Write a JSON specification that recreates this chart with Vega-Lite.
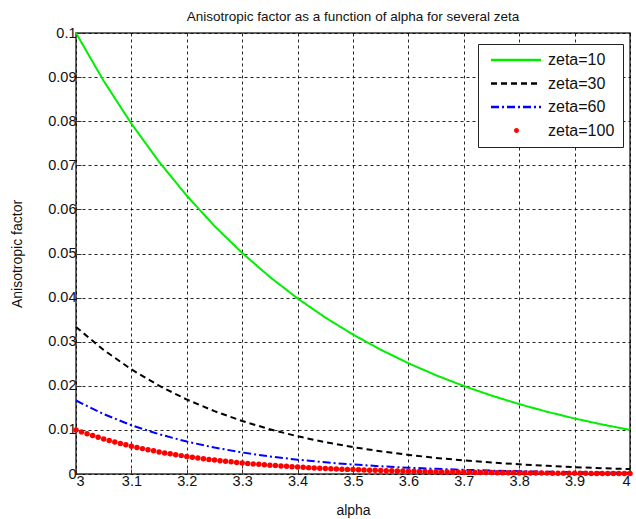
{
  "$schema": "https://vega.github.io/schema/vega-lite/v6.json",
  "width": 554,
  "height": 441,
  "autosize": {"type": "none"},
  "padding": {"left": 76, "top": 33, "right": 6, "bottom": 45},
  "background": "white",
  "title": {"text": "Anisotropic factor as a function of alpha for several zeta", "fontSize": 13.5, "fontWeight": "normal", "font": "Liberation Sans", "color": "#111", "offset": 2},
  "config": {
    "view": {"stroke": "#333", "strokeWidth": 1.5},
    "axis": {"labelFont": "Liberation Sans", "titleFont": "Liberation Sans", "labelFontSize": 14.5, "titleFontSize": 14, "titleFontWeight": "normal", "labelColor": "#111", "titleColor": "#111", "gridColor": "#000", "gridDash": [3, 3], "gridOpacity": 0.85, "gridWidth": 1, "domain": false, "tickColor": "#333", "tickSize": -5, "labelPadding": 5}
  },
  "data": {"values": [
    {"a":3.00,"z":"zeta=10","f":0.1},{"a":3.05,"z":"zeta=10","f":0.089125},{"a":3.10,"z":"zeta=10","f":0.079433},{"a":3.15,"z":"zeta=10","f":0.070795},{"a":3.20,"z":"zeta=10","f":0.063096},{"a":3.25,"z":"zeta=10","f":0.056234},{"a":3.30,"z":"zeta=10","f":0.050119},{"a":3.35,"z":"zeta=10","f":0.044668},{"a":3.40,"z":"zeta=10","f":0.039811},{"a":3.45,"z":"zeta=10","f":0.035481},{"a":3.50,"z":"zeta=10","f":0.031623},{"a":3.55,"z":"zeta=10","f":0.028184},{"a":3.60,"z":"zeta=10","f":0.025119},{"a":3.65,"z":"zeta=10","f":0.022387},{"a":3.70,"z":"zeta=10","f":0.019953},{"a":3.75,"z":"zeta=10","f":0.017783},{"a":3.80,"z":"zeta=10","f":0.015849},{"a":3.85,"z":"zeta=10","f":0.014125},{"a":3.90,"z":"zeta=10","f":0.012589},{"a":3.95,"z":"zeta=10","f":0.011220},{"a":4.00,"z":"zeta=10","f":0.01},
    {"a":3.00,"z":"zeta=30","f":0.033333},{"a":3.05,"z":"zeta=30","f":0.028120},{"a":3.10,"z":"zeta=30","f":0.023723},{"a":3.15,"z":"zeta=30","f":0.020013},{"a":3.20,"z":"zeta=30","f":0.016883},{"a":3.25,"z":"zeta=30","f":0.014243},{"a":3.30,"z":"zeta=30","f":0.012015},{"a":3.35,"z":"zeta=30","f":0.010136},{"a":3.40,"z":"zeta=30","f":0.008551},{"a":3.45,"z":"zeta=30","f":0.007214},{"a":3.50,"z":"zeta=30","f":0.006086},{"a":3.55,"z":"zeta=30","f":0.005134},{"a":3.60,"z":"zeta=30","f":0.004331},{"a":3.65,"z":"zeta=30","f":0.003654},{"a":3.70,"z":"zeta=30","f":0.003082},{"a":3.75,"z":"zeta=30","f":0.002600},{"a":3.80,"z":"zeta=30","f":0.002194},{"a":3.85,"z":"zeta=30","f":0.001851},{"a":3.90,"z":"zeta=30","f":0.001561},{"a":3.95,"z":"zeta=30","f":0.001317},{"a":4.00,"z":"zeta=30","f":0.001111},
    {"a":3.00,"z":"zeta=60","f":0.016667},{"a":3.05,"z":"zeta=60","f":0.013581},{"a":3.10,"z":"zeta=60","f":0.011067},{"a":3.15,"z":"zeta=60","f":0.009018},{"a":3.20,"z":"zeta=60","f":0.007349},{"a":3.25,"z":"zeta=60","f":0.005988},{"a":3.30,"z":"zeta=60","f":0.004880},{"a":3.35,"z":"zeta=60","f":0.003976},{"a":3.40,"z":"zeta=60","f":0.003240},{"a":3.45,"z":"zeta=60","f":0.002640},{"a":3.50,"z":"zeta=60","f":0.002152},{"a":3.55,"z":"zeta=60","f":0.001753},{"a":3.60,"z":"zeta=60","f":0.001429},{"a":3.65,"z":"zeta=60","f":0.001164},{"a":3.70,"z":"zeta=60","f":0.000949},{"a":3.75,"z":"zeta=60","f":0.000773},{"a":3.80,"z":"zeta=60","f":0.000630},{"a":3.85,"z":"zeta=60","f":0.000513},{"a":3.90,"z":"zeta=60","f":0.000418},{"a":3.95,"z":"zeta=60","f":0.000341},{"a":4.00,"z":"zeta=60","f":0.000278},
    {"a":3.00,"z":"zeta=100","f":0.010000},{"a":3.01,"z":"zeta=100","f":0.009550},{"a":3.02,"z":"zeta=100","f":0.009120},{"a":3.03,"z":"zeta=100","f":0.008710},{"a":3.04,"z":"zeta=100","f":0.008318},{"a":3.05,"z":"zeta=100","f":0.007943},{"a":3.06,"z":"zeta=100","f":0.007586},{"a":3.07,"z":"zeta=100","f":0.007244},{"a":3.08,"z":"zeta=100","f":0.006918},{"a":3.09,"z":"zeta=100","f":0.006607},
    {"a":3.10,"z":"zeta=100","f":0.006310},{"a":3.11,"z":"zeta=100","f":0.006026},{"a":3.12,"z":"zeta=100","f":0.005754},{"a":3.13,"z":"zeta=100","f":0.005495},{"a":3.14,"z":"zeta=100","f":0.005248},{"a":3.15,"z":"zeta=100","f":0.005012},{"a":3.16,"z":"zeta=100","f":0.004786},{"a":3.17,"z":"zeta=100","f":0.004571},{"a":3.18,"z":"zeta=100","f":0.004365},{"a":3.19,"z":"zeta=100","f":0.004169},
    {"a":3.20,"z":"zeta=100","f":0.003981},{"a":3.21,"z":"zeta=100","f":0.003802},{"a":3.22,"z":"zeta=100","f":0.003631},{"a":3.23,"z":"zeta=100","f":0.003467},{"a":3.24,"z":"zeta=100","f":0.003311},{"a":3.25,"z":"zeta=100","f":0.003162},{"a":3.26,"z":"zeta=100","f":0.003020},{"a":3.27,"z":"zeta=100","f":0.002884},{"a":3.28,"z":"zeta=100","f":0.002754},{"a":3.29,"z":"zeta=100","f":0.002630},
    {"a":3.30,"z":"zeta=100","f":0.002512},{"a":3.31,"z":"zeta=100","f":0.002399},{"a":3.32,"z":"zeta=100","f":0.002291},{"a":3.33,"z":"zeta=100","f":0.002188},{"a":3.34,"z":"zeta=100","f":0.002089},{"a":3.35,"z":"zeta=100","f":0.001995},{"a":3.36,"z":"zeta=100","f":0.001905},{"a":3.37,"z":"zeta=100","f":0.001820},{"a":3.38,"z":"zeta=100","f":0.001738},{"a":3.39,"z":"zeta=100","f":0.001660},
    {"a":3.40,"z":"zeta=100","f":0.001585},{"a":3.41,"z":"zeta=100","f":0.001514},{"a":3.42,"z":"zeta=100","f":0.001445},{"a":3.43,"z":"zeta=100","f":0.001380},{"a":3.44,"z":"zeta=100","f":0.001318},{"a":3.45,"z":"zeta=100","f":0.001259},{"a":3.46,"z":"zeta=100","f":0.001202},{"a":3.47,"z":"zeta=100","f":0.001148},{"a":3.48,"z":"zeta=100","f":0.001096},{"a":3.49,"z":"zeta=100","f":0.001047},
    {"a":3.50,"z":"zeta=100","f":0.001000},{"a":3.51,"z":"zeta=100","f":0.000955},{"a":3.52,"z":"zeta=100","f":0.000912},{"a":3.53,"z":"zeta=100","f":0.000871},{"a":3.54,"z":"zeta=100","f":0.000832},{"a":3.55,"z":"zeta=100","f":0.000794},{"a":3.56,"z":"zeta=100","f":0.000759},{"a":3.57,"z":"zeta=100","f":0.000724},{"a":3.58,"z":"zeta=100","f":0.000692},{"a":3.59,"z":"zeta=100","f":0.000661},
    {"a":3.60,"z":"zeta=100","f":0.000631},{"a":3.61,"z":"zeta=100","f":0.000603},{"a":3.62,"z":"zeta=100","f":0.000575},{"a":3.63,"z":"zeta=100","f":0.000550},{"a":3.64,"z":"zeta=100","f":0.000525},{"a":3.65,"z":"zeta=100","f":0.000501},{"a":3.66,"z":"zeta=100","f":0.000479},{"a":3.67,"z":"zeta=100","f":0.000457},{"a":3.68,"z":"zeta=100","f":0.000437},{"a":3.69,"z":"zeta=100","f":0.000417},
    {"a":3.70,"z":"zeta=100","f":0.000398},{"a":3.71,"z":"zeta=100","f":0.000380},{"a":3.72,"z":"zeta=100","f":0.000363},{"a":3.73,"z":"zeta=100","f":0.000347},{"a":3.74,"z":"zeta=100","f":0.000331},{"a":3.75,"z":"zeta=100","f":0.000316},{"a":3.76,"z":"zeta=100","f":0.000302},{"a":3.77,"z":"zeta=100","f":0.000288},{"a":3.78,"z":"zeta=100","f":0.000275},{"a":3.79,"z":"zeta=100","f":0.000263},
    {"a":3.80,"z":"zeta=100","f":0.000251},{"a":3.81,"z":"zeta=100","f":0.000240},{"a":3.82,"z":"zeta=100","f":0.000229},{"a":3.83,"z":"zeta=100","f":0.000219},{"a":3.84,"z":"zeta=100","f":0.000209},{"a":3.85,"z":"zeta=100","f":0.000200},{"a":3.86,"z":"zeta=100","f":0.000191},{"a":3.87,"z":"zeta=100","f":0.000182},{"a":3.88,"z":"zeta=100","f":0.000174},{"a":3.89,"z":"zeta=100","f":0.000166},
    {"a":3.90,"z":"zeta=100","f":0.000158},{"a":3.91,"z":"zeta=100","f":0.000151},{"a":3.92,"z":"zeta=100","f":0.000145},{"a":3.93,"z":"zeta=100","f":0.000138},{"a":3.94,"z":"zeta=100","f":0.000132},{"a":3.95,"z":"zeta=100","f":0.000126},{"a":3.96,"z":"zeta=100","f":0.000120},{"a":3.97,"z":"zeta=100","f":0.000115},{"a":3.98,"z":"zeta=100","f":0.000110},{"a":3.99,"z":"zeta=100","f":0.000105},{"a":4.00,"z":"zeta=100","f":0.000100}
  ]},
  "encoding": {
    "x": {"field": "a", "type": "quantitative", "title": "alpha", "scale": {"domain": [3, 4], "nice": false, "zero": false}, "axis": {"values": [3, 3.1, 3.2, 3.3, 3.4, 3.5, 3.6, 3.7, 3.8, 3.9, 4], "format": "~g", "titlePadding": 16}},
    "y": {"field": "f", "type": "quantitative", "title": "Anisotropic factor", "scale": {"domain": [0, 0.1], "nice": false}, "axis": {"values": [0, 0.01, 0.02, 0.03, 0.04, 0.05, 0.06, 0.07, 0.08, 0.09, 0.1], "format": "~g", "titlePadding": 23}}
  },
  "layer": [
    {
      "transform": [{"filter": "datum.z !== 'zeta=100'"}],
      "mark": {"type": "line", "strokeWidth": 2},
      "encoding": {
        "color": {"field": "z", "type": "nominal", "scale": {"domain": ["zeta=10", "zeta=30", "zeta=60", "zeta=100"], "range": ["#00ee00", "#000000", "#0000ff", "#ff0000"]},
          "legend": {"title": null, "orient": "none", "legendX": 402, "legendY": 11, "padding": 8, "strokeColor": "#222", "fillColor": "white", "symbolType": "stroke", "symbolSize": 100, "symbolStrokeWidth": 2.5, "labelFont": "Liberation Sans", "labelFontSize": 16, "labelColor": "#111", "rowPadding": 7.5, "labelOffset": 46,
            "encode": {"symbols": {"update": {"shape": {"signal": "datum.label === 'zeta=100' ? 'M5,0A0.5,0.5 0 1,1 4,0A0.5,0.5 0 1,1 5,0Z' : 'M-0.6,0L9.4,0'"}, "size": {"value": 100}, "fill": {"signal": "datum.label === 'zeta=100' ? '#ff0000' : 'transparent'"}, "strokeWidth": {"signal": "datum.label === 'zeta=100' ? 0 : 2.5"}}}}}},
        "strokeDash": {"field": "z", "type": "nominal", "scale": {"domain": ["zeta=10", "zeta=30", "zeta=60", "zeta=100"], "range": [[1, 0], [6, 4], [8, 3, 2, 3], [1, 0]]}, "legend": null},
        "detail": {"field": "z"}
      }
    },
    {
      "transform": [{"filter": "datum.z === 'zeta=100'"}],
      "mark": {"type": "point", "filled": true, "shape": "circle", "size": 30, "color": "#ff0000", "opacity": 1},
      "encoding": {}
    }
  ]
}
